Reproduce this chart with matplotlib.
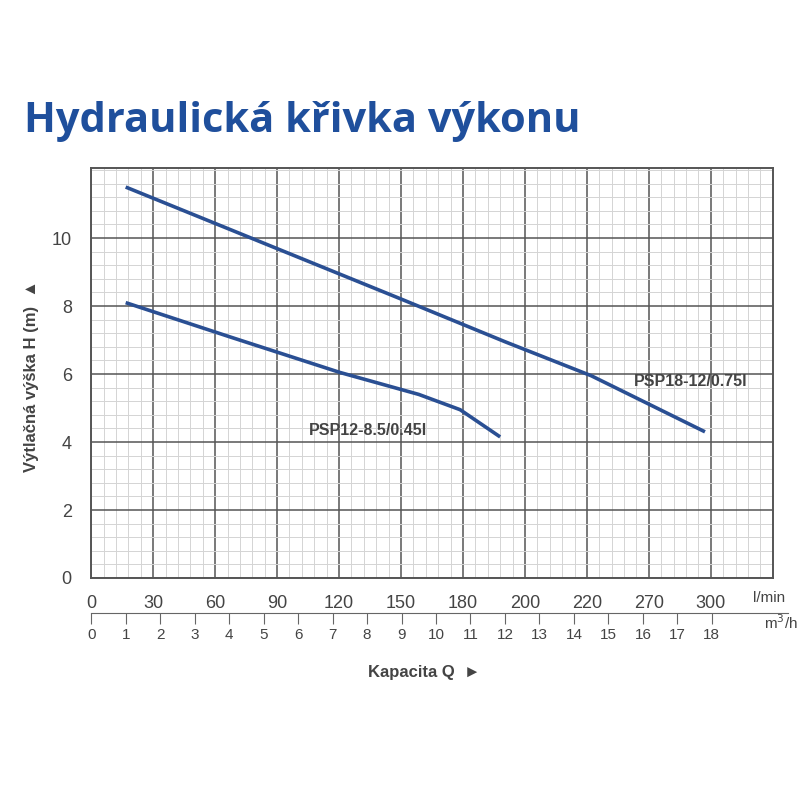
import matplotlib

matplotlib.use("Agg")

import matplotlib.pyplot as plt
import numpy as np

# --- Data (x in m3/h, y in m) ---
PSP18_Q = [1.0, 5.0, 9.0, 12.0, 14.5, 17.8]
PSP18_H = [11.5, 9.85, 8.2, 6.95, 5.95, 4.3]
PSP12_Q = [1.0, 4.0, 7.2, 9.5, 10.7, 11.86]
PSP12_H = [8.1, 7.1, 6.05, 5.4, 4.95, 4.15]
LMIN_LABELS = ["0", "30", "60", "90", "120", "150", "180", "200", "220", "270", "300"]
M3H_TICKS = list(range(19))
Y_TICKS = [0, 2, 4, 6, 8, 10]

# --- Style ---
BLUE = "#1f4f9c"
LINE = "#2a4f93"
GRAY = "#444444"
MAJOR = 1.797  # one major grid cell (30 l/min) in m3/h
XMAX = 11 * MAJOR
FONT = ["Liberation Sans", "DejaVu Sans"]

plt.rcParams["font.family"] = FONT

fig = plt.figure(figsize=(8, 8), dpi=100)
fig.patch.set_facecolor("white")
ax = fig.add_axes([0.114, 0.2775, 0.852, 0.5125])

ax.plot(PSP18_Q, PSP18_H, color=LINE, lw=2.6, solid_capstyle="butt")
ax.plot(PSP12_Q, PSP12_H, color=LINE, lw=2.6, solid_capstyle="butt")

ax.set_xlim(0, XMAX)
ax.set_ylim(0, 12.06)
ax.set_xticks(np.arange(11) * MAJOR)
ax.set_xticks(np.arange(56) * MAJOR / 5, minor=True)
ax.set_yticks(Y_TICKS)
ax.set_yticks(np.arange(0, 12.1, 0.4), minor=True)
ax.grid(True, which="minor", color="#d4d4d4", lw=0.7)
ax.grid(True, which="major", color="#555555", lw=1.1)
ax.set_axisbelow(True)
for s in ax.spines.values():
    s.set_color("#555555")
    s.set_linewidth(1.4)
ax.tick_params(which="both", length=0)
ax.set_xticklabels(LMIN_LABELS, fontsize=13, color=GRAY)
ax.set_yticklabels([str(v) for v in Y_TICKS], fontsize=13, color=GRAY)
ax.tick_params(axis="x", pad=12)
ax.tick_params(axis="y", pad=14)
ax.text(19.2, -0.6, "l/min", fontsize=11, color=GRAY, ha="left", va="center", clip_on=False)

ax.text(15.75, 5.65, "PSP18-12/0.75l", fontsize=11.5, fontweight="bold", color=GRAY)
ax.text(6.3, 4.2, "PSP12-8.5/0.45l", fontsize=11.5, fontweight="bold", color=GRAY)

# m3/h scale
ax2 = fig.add_axes([0.114, 1 - 613 / 800, 0.852, 0.0001])
ax2.set_xlim(0, XMAX)
for k in ["top", "left", "right"]:
    ax2.spines[k].set_visible(False)
ax2.spines["bottom"].set_bounds(0, 20.2)
ax2.spines["bottom"].set_color("#666666")
ax2.set_yticks([])
ax2.set_xticks(M3H_TICKS)
ax2.set_xticklabels([str(v) for v in M3H_TICKS], fontsize=11, color=GRAY)
ax2.tick_params(axis="x", length=8, color="#666666", pad=3)
ax2.text(20.0, -1, "m$^3$/h", fontsize=11, color=GRAY, ha="center", va="top",
         transform=ax2.get_xaxis_transform(), clip_on=False)
ax2.patch.set_alpha(0)

fig.text(0.03, 0.835, "Hydraulická křivka výkonu", fontsize=30, fontweight="bold",
         color=BLUE, family=["Open Sans", "DejaVu Sans"])
fig.text(0.04, 0.53, "Výtlačná výška H (m)  ▲", rotation=90, fontsize=12,
         fontweight="bold", color=GRAY, ha="center", va="center",
         family=["Liberation Sans", "DejaVu Sans"])
fig.text(0.46, 0.16, "Kapacita Q  ►", fontsize=12, fontweight="bold", color=GRAY,
         ha="left", va="center", family=["Liberation Sans", "DejaVu Sans"])

fig.savefig("out.png", dpi=100)
